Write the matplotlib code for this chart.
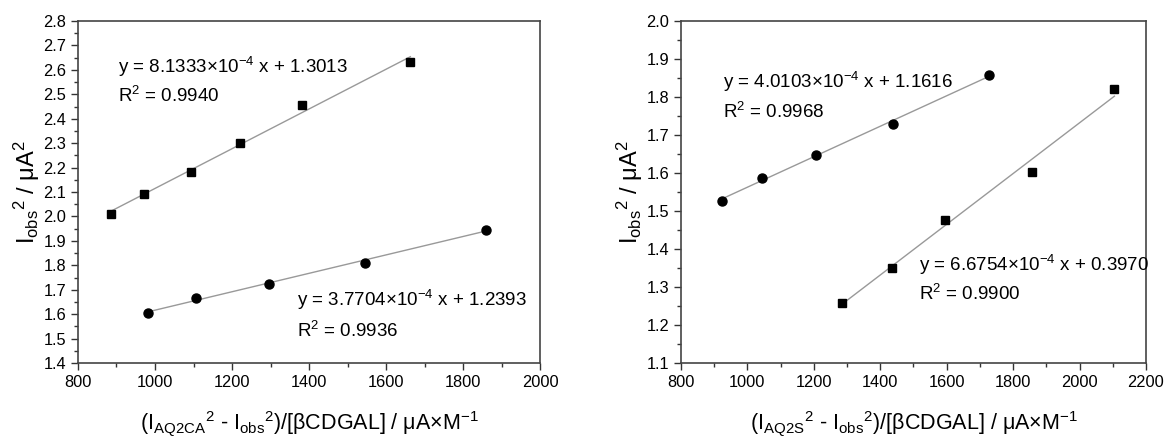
import matplotlib
matplotlib.use("Agg")
import matplotlib.pyplot as plt
from matplotlib.ticker import MultipleLocator
import numpy as np

plt.rcParams['font.family'] = ['Liberation Sans', 'DejaVu Sans']
plt.rcParams['mathtext.fontset'] = 'custom'
plt.rcParams['mathtext.rm'] = 'Liberation Sans'
plt.rcParams['mathtext.it'] = 'Liberation Sans:italic'
plt.rcParams['mathtext.default'] = 'regular'

# AQ2CA panel
ca_sq_x = np.array([885, 972, 1093, 1222, 1381, 1663])
ca_sq_y = np.array([2.010, 2.093, 2.180, 2.302, 2.457, 2.633])
ca_ci_x = np.array([982, 1106, 1297, 1545, 1860])
ca_ci_y = np.array([1.605, 1.668, 1.722, 1.810, 1.946])
ca_sq_fit = (8.1333e-4, 1.3013, 0.9940)
ca_ci_fit = (3.7704e-4, 1.2393, 0.9936)

# AQ2S panel
s_ci_x = np.array([923, 1043, 1206, 1437, 1728])
s_ci_y = np.array([1.527, 1.586, 1.648, 1.728, 1.858])
s_sq_x = np.array([1285, 1434, 1596, 1858, 2105])
s_sq_y = np.array([1.259, 1.349, 1.477, 1.602, 1.821])
s_ci_fit = (4.0103e-4, 1.1616, 0.9968)
s_sq_fit = (6.6754e-4, 0.3970, 0.9900)


def fit_label(fit):
    slope, icpt, r2 = fit
    mant = slope / 1e-4
    return ('y = %.4f$\\times$10$^{-4}$ x + %.4f' % (mant, icpt),
            'R$^2$ = %.4f' % r2)


def draw_series(ax, x, y, fit, marker):
    xs = np.array([x[0], x[-1]])
    ax.plot(xs, fit[0] * xs + fit[1], color='#999999', lw=1.0, zorder=1)
    ax.plot(x, y, linestyle='none', marker=marker, color='black',
            markersize=6.5 if marker == 'o' else 6, zorder=2)


def style_axes(ax, xlim, ylim, xmaj, ymaj):
    ax.set_xlim(*xlim)
    ax.set_ylim(*ylim)
    ax.xaxis.set_major_locator(MultipleLocator(xmaj))
    ax.xaxis.set_minor_locator(MultipleLocator(xmaj / 2))
    ax.yaxis.set_major_locator(MultipleLocator(ymaj))
    ax.yaxis.set_minor_locator(MultipleLocator(ymaj / 2))
    ax.yaxis.set_major_formatter(plt.FormatStrFormatter('%.1f'))
    ax.tick_params(which='both', direction='out', top=False, right=False,
                   color='#333333', width=1.0, labelsize=11.8)
    ax.tick_params(which='major', length=5)
    ax.tick_params(which='minor', length=3)
    for sp in ax.spines.values():
        sp.set_color('#444444')
        sp.set_linewidth(1.2)


fig = plt.figure(figsize=(11.64, 4.37), dpi=100)
ax1 = fig.add_axes([0.067, 0.1693, 0.397, 0.7826])
ax2 = fig.add_axes([0.585, 0.1693, 0.3995, 0.7826])

# left: AQ2CA
draw_series(ax1, ca_sq_x, ca_sq_y, ca_sq_fit, 's')
draw_series(ax1, ca_ci_x, ca_ci_y, ca_ci_fit, 'o')
style_axes(ax1, (800, 2000), (1.4, 2.8), 200, 0.1)
eq, r2 = fit_label(ca_sq_fit)
ax1.text(905, 2.612, eq, fontsize=13.5, va='center')
ax1.text(905, 2.492, r2, fontsize=13.5, va='center')
eq, r2 = fit_label(ca_ci_fit)
ax1.text(1370, 1.657, eq, fontsize=13.5, va='center')
ax1.text(1370, 1.530, r2, fontsize=13.5, va='center')
ax1.set_xlabel('(I$_{AQ2CA}$$^{2}$ - I$_{obs}$$^{2}$)/[\u03b2CDGAL] / \u03bcA$\\times$M$^{-1}$',
               fontsize=15.5, labelpad=14)
ax1.set_ylabel('I$_{obs}$$^{2}$ / \u03bcA$^{2}$', fontsize=17, labelpad=1)

# right: AQ2S
draw_series(ax2, s_ci_x, s_ci_y, s_ci_fit, 'o')
draw_series(ax2, s_sq_x, s_sq_y, s_sq_fit, 's')
style_axes(ax2, (800, 2200), (1.1, 2.0), 200, 0.1)
eq, r2 = fit_label(s_ci_fit)
ax2.text(927, 1.839, eq, fontsize=13.5, va='center')
ax2.text(927, 1.762, r2, fontsize=13.5, va='center')
eq, r2 = fit_label(s_sq_fit)
ax2.text(1517, 1.357, eq, fontsize=13.5, va='center')
ax2.text(1517, 1.283, r2, fontsize=13.5, va='center')
ax2.set_xlabel('(I$_{AQ2S}$$^{2}$ - I$_{obs}$$^{2}$)/[\u03b2CDGAL] / \u03bcA$\\times$M$^{-1}$',
               fontsize=15.5, labelpad=14)
ax2.set_ylabel('I$_{obs}$$^{2}$ / \u03bcA$^{2}$', fontsize=17, labelpad=1)

fig.savefig('out.png', dpi=100)
